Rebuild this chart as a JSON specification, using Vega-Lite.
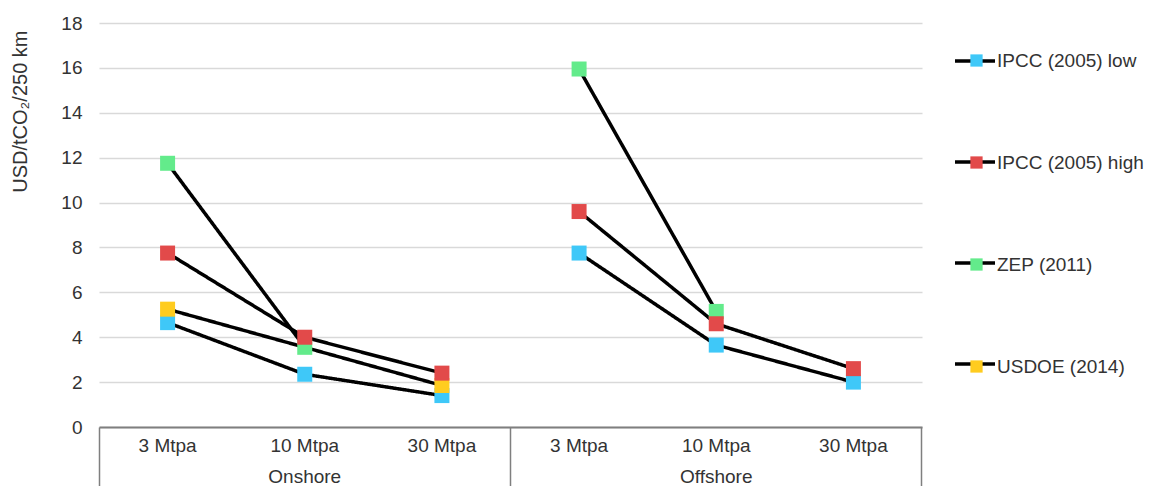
{
  "$schema": "https://vega.github.io/schema/vega-lite/v6.json",
  "width": 823,
  "height": 404,
  "autosize": "none",
  "padding": {"left": 99, "top": 23, "right": 240, "bottom": 59},
  "background": "white",
  "config": {"font": "Liberation Sans", "view": {"stroke": null}},
  "data": {
    "values": [
      {"series": "IPCC (2005) low", "site": "Onshore", "capacity": 3, "category": "Onshore 3 Mtpa", "value": 4.65},
      {"series": "IPCC (2005) low", "site": "Onshore", "capacity": 10, "category": "Onshore 10 Mtpa", "value": 2.35},
      {"series": "IPCC (2005) low", "site": "Onshore", "capacity": 30, "category": "Onshore 30 Mtpa", "value": 1.4},
      {"series": "IPCC (2005) low", "site": "Offshore", "capacity": 3, "category": "Offshore 3 Mtpa", "value": 7.75},
      {"series": "IPCC (2005) low", "site": "Offshore", "capacity": 10, "category": "Offshore 10 Mtpa", "value": 3.65},
      {"series": "IPCC (2005) low", "site": "Offshore", "capacity": 30, "category": "Offshore 30 Mtpa", "value": 2.0},
      {"series": "USDOE (2014)", "site": "Onshore", "capacity": 3, "category": "Onshore 3 Mtpa", "value": 5.25},
      {"series": "USDOE (2014)", "site": "Onshore", "capacity": 30, "category": "Onshore 30 Mtpa", "value": 1.85},
      {"series": "ZEP (2011)", "site": "Onshore", "capacity": 3, "category": "Onshore 3 Mtpa", "value": 11.75},
      {"series": "ZEP (2011)", "site": "Onshore", "capacity": 10, "category": "Onshore 10 Mtpa", "value": 3.55},
      {"series": "ZEP (2011)", "site": "Offshore", "capacity": 3, "category": "Offshore 3 Mtpa", "value": 15.95},
      {"series": "ZEP (2011)", "site": "Offshore", "capacity": 10, "category": "Offshore 10 Mtpa", "value": 5.15},
      {"series": "IPCC (2005) high", "site": "Onshore", "capacity": 3, "category": "Onshore 3 Mtpa", "value": 7.75},
      {"series": "IPCC (2005) high", "site": "Onshore", "capacity": 10, "category": "Onshore 10 Mtpa", "value": 4.0},
      {"series": "IPCC (2005) high", "site": "Onshore", "capacity": 30, "category": "Onshore 30 Mtpa", "value": 2.4},
      {"series": "IPCC (2005) high", "site": "Offshore", "capacity": 3, "category": "Offshore 3 Mtpa", "value": 9.6},
      {"series": "IPCC (2005) high", "site": "Offshore", "capacity": 10, "category": "Offshore 10 Mtpa", "value": 4.6},
      {"series": "IPCC (2005) high", "site": "Offshore", "capacity": 30, "category": "Offshore 30 Mtpa", "value": 2.6}
    ]
  },
  "encoding": {
    "x": {
      "field": "category",
      "type": "ordinal",
      "sort": ["Onshore 3 Mtpa", "Onshore 10 Mtpa", "Onshore 30 Mtpa", "Offshore 3 Mtpa", "Offshore 10 Mtpa", "Offshore 30 Mtpa"],
      "scale": {"type": "band", "paddingInner": 0, "paddingOuter": 0},
      "axis": {
        "title": null,
        "grid": false,
        "labelAngle": 0,
        "labelExpr": "!datum.value ? '' : datum.value == 'Onshore 10 Mtpa' ? ['10 Mtpa', 'Onshore'] : datum.value == 'Offshore 10 Mtpa' ? ['10 Mtpa', 'Offshore'] : replace(replace(datum.value, 'Onshore ', ''), 'Offshore ', '')",
        "labelFontSize": 19,
        "labelColor": "#333333",
        "labelLineHeight": 31,
        "labelBaseline": "top",
        "labelPadding": -50,
        "domainColor": "#7f7f7f",
        "domainWidth": 2,
        "tickSize": 59,
        "tickWidth": 1.5,
        "bandPosition": 1,
        "tickExtra": true,
        "tickColor": {"condition": {"test": "datum.value == 'Onshore 30 Mtpa' || datum.value == 'Offshore 30 Mtpa' || !datum.value", "value": "#7f7f7f"}, "value": "transparent"}
      }
    },
    "y": {
      "field": "value",
      "type": "quantitative",
      "scale": {"domain": [0, 18]},
      "axis": {
        "values": [0, 2, 4, 6, 8, 10, 12, 14, 16, 18],
        "grid": true,
        "gridColor": "#d9d9d9",
        "gridWidth": 1.5,
        "domain": false,
        "ticks": false,
        "labelFontSize": 19,
        "labelColor": "#333333",
        "labelPadding": 17,
        "title": "USD/tCO₂/250 km",
        "titleFontSize": 20,
        "titleFontWeight": "normal",
        "titleColor": "#333333",
        "titleAnchor": "end",
        "titleX": -69,
        "titleY": 7
      }
    }
  },
  "layer": [
    {
      "mark": {"type": "line", "color": "black", "strokeWidth": 3.5},
      "encoding": {
        "detail": [{"field": "series"}, {"field": "site"}],
        "order": {"field": "capacity", "type": "quantitative"},
        "strokeDash": {
          "field": "series",
          "type": "nominal",
          "scale": {"range": [[1, 0], [1, 0], [1, 0], [1, 0]]},
          "legend": {
            "orient": "none",
            "legendX": 854,
            "legendY": 16,
            "title": null,
            "zindex": 1,
            "labelExpr": "''",
            "labelFontSize": 19,
            "symbolType": "stroke",
            "symbolSize": 1600,
            "symbolStrokeColor": "black",
            "symbolStrokeWidth": 3.5,
            "rowPadding": 69
          }
        }
      }
    },
    {
      "mark": {"type": "square", "size": 225, "opacity": 1, "filled": true},
      "encoding": {
        "color": {
          "field": "series",
          "type": "nominal",
          "scale": {
            "domain": ["IPCC (2005) low", "IPCC (2005) high", "ZEP (2011)", "USDOE (2014)"],
            "range": ["#3fc8f8", "#e24a4a", "#63eb8b", "#ffcc1f"]
          },
          "legend": {
            "orient": "none",
            "legendX": 868,
            "legendY": 28,
            "title": null,
            "zindex": 2,
            "labelFontSize": 19,
            "labelColor": "#333333",
            "labelOffset": 11,
            "symbolType": "square",
            "symbolSize": 150,
            "symbolStrokeWidth": 0,
            "symbolOpacity": 1,
            "rowPadding": 82
          }
        }
      }
    }
  ]
}
